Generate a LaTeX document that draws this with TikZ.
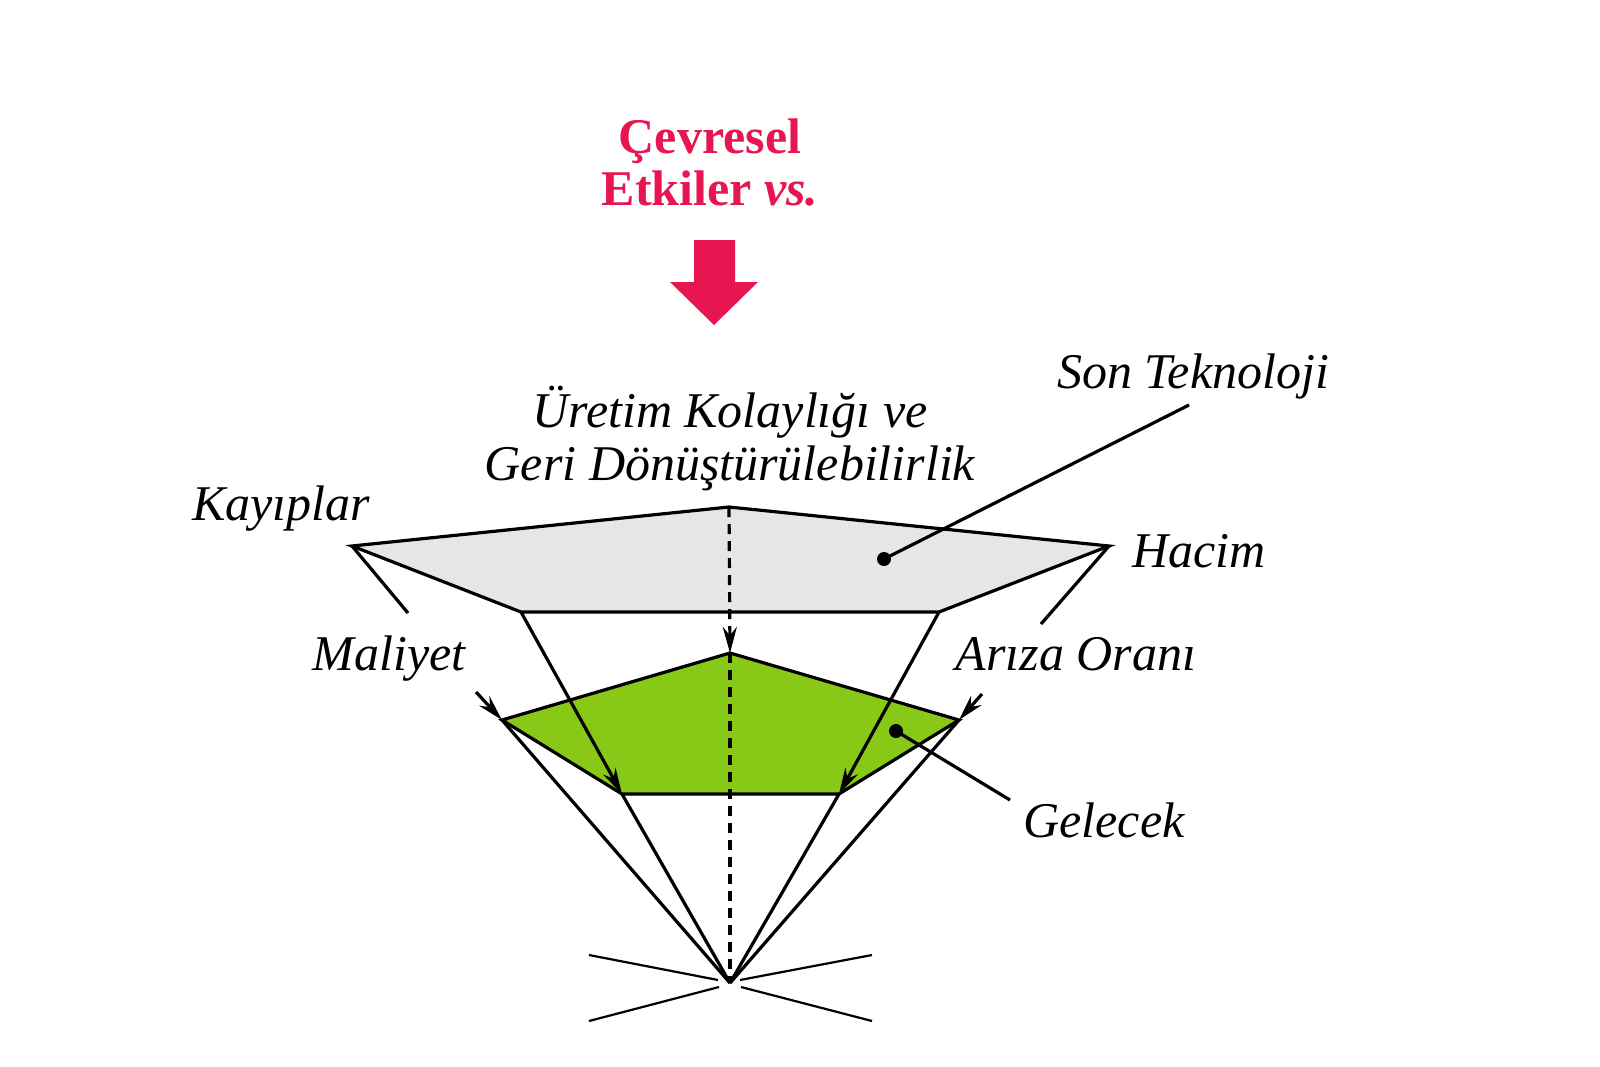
\documentclass[tikz,border=0pt]{standalone}
\usepackage{fontspec}
\setmainfont{Liberation Serif}
\usetikzlibrary{arrows.meta}
\definecolor{crimson}{RGB}{232,22,80}
\definecolor{topgray}{RGB}{230,230,230}
\definecolor{leafgreen}{RGB}{136,200,22}
\begin{document}
\begin{tikzpicture}[x=0.5pt,y=-0.5pt,
  outline/.style={line width=1.6pt, line join=miter},
  dashline/.style={line width=1.6pt, dash pattern=on 5pt off 3.5pt},
  arrowed/.style={-{Stealth[length=13pt,width=7pt]}},
  thinline/.style={line width=1.1pt},
  lbl/.style={font=\fontsize{25}{29}\selectfont\itshape, anchor=base, inner sep=0pt},
  dot/.style={circle, fill=black, inner sep=0pt, minimum size=7pt}
]
\useasboundingbox (0,0) rectangle (1600,1066);

% title
\node[text=crimson, font=\fontsize{25}{26}\selectfont\bfseries, align=center, anchor=base, inner sep=0pt]
  (title) at (710,205) {Çevresel\\Etkiler \textit{vs.}};
\fill[crimson] (694,240) -- (735,240) -- (735,282) -- (758,282) -- (714,325) -- (670,282) -- (694,282) -- cycle;

% top pentagon
\coordinate (A) at (352,546);
\coordinate (B) at (729,507);
\coordinate (C) at (1109,546);
\coordinate (D) at (939,612);
\coordinate (E) at (521,612);
% green pentagon
\coordinate (gT) at (730,653);
\coordinate (gR) at (959,720);
\coordinate (gBR) at (839,794);
\coordinate (gBL) at (622,794);
\coordinate (gL) at (502,720);
% apex
\coordinate (apex) at (730,983);
% free ends
\coordinate (aEnd) at (408,613);
\coordinate (cEnd) at (1041,624);
\coordinate (malS) at (476,692);
\coordinate (arzS) at (982,694);

\filldraw[fill=topgray, outline] (A) -- (B) -- (C) -- (D) -- (E) -- cycle;
\filldraw[fill=leafgreen, outline] (gT) -- (gR) -- (gBR) -- (gBL) -- (gL) -- cycle;

% side strokes
\draw[outline] (A) -- (aEnd);
\draw[outline] (C) -- (cEnd);

% central dashed axis
\draw[dashline, arrowed] (B) -- (gT);
\draw[dashline] (gT) -- (apex);

% projection lines
\draw[outline, arrowed] (E) -- (gBL);
\draw[outline, arrowed] (D) -- (gBR);
\draw[outline] (gBL) -- (apex);
\draw[outline] (gBR) -- (apex);
\draw[outline, arrowed] (malS) -- (gL);
\draw[outline, arrowed] (arzS) -- (gR);
\draw[outline] (gL) -- (apex);
\draw[outline] (gR) -- (apex);

% cross lines at apex
\coordinate (ul1) at (589,955); \coordinate (ul2) at (718,980);
\coordinate (ll1) at (589,1021); \coordinate (ll2) at (719,987);
\coordinate (ur1) at (740,980); \coordinate (ur2) at (872,955);
\coordinate (lr1) at (741,987); \coordinate (lr2) at (872,1021);
\draw[thinline] (ul1) -- (ul2);
\draw[thinline] (ll1) -- (ll2);
\draw[thinline] (ur1) -- (ur2);
\draw[thinline] (lr1) -- (lr2);

% leaders
\node[dot] (stDot) at (884,559) {};
\coordinate (stEnd) at (1189,405);
\draw[outline] (stDot.center) -- (stEnd);
\node[dot] (gDot) at (896,731) {};
\coordinate (gEnd) at (1010,800);
\draw[outline] (gDot.center) -- (gEnd);

% labels
\node[lbl] (son) at (1193,388) {Son Teknoloji};
\node[lbl] (uretim) at (730,427) {Üretim Kolaylığı ve};
\node[lbl] (geri) at (730,480) {Geri Dönüştürülebilirlik};
\node[lbl] (kayip) at (281,520) {Kayıplar};
\node[lbl] (hacim) at (1199,567) {Hacim};
\node[lbl] (maliyet) at (389,670) {Maliyet};
\node[lbl] (ariza) at (1076,670) {Arıza Oranı};
\node[lbl] (gelecek) at (1104,837) {Gelecek};
\end{tikzpicture}
\end{document}
